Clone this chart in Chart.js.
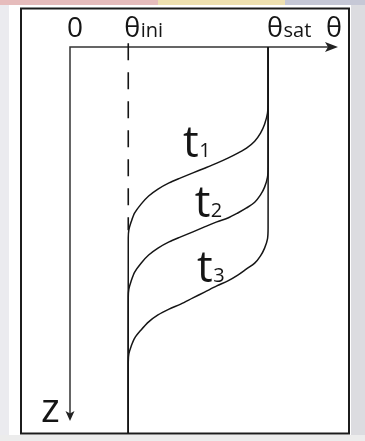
<!DOCTYPE html>
<html>
<head>
<meta charset="utf-8">
<title>Wetting front profiles</title>
<script src="https://cdn.jsdelivr.net/npm/chart.js@4.4.1/dist/chart.umd.min.js"></script>
<style>
  html, body { margin: 0; padding: 0; background: #fff; }
  canvas { display: block; }
</style>
</head>
<body>
<canvas id="profile" width="365" height="441"></canvas>
<script>
// water content axis (theta) and depth axis (z, cm, downward)
const thetaIni = 0.10;
const thetaSat = 0.34;
const thetaMax = 0.46;
const zMax = 100;
const zArrow = 96.9;

// the three fronts share one profile shape, each sitting deeper than the last
const frontTheta = [0.34, 0.34, 0.339, 0.334, 0.327, 0.317, 0.303, 0.288, 0.271, 0.252, 0.231, 0.211, 0.190, 0.170, 0.151, 0.135, 0.122, 0.111, 0.105, 0.101, 0.10, 0.10];

const t1Depth = [0, 14.0, 17.1, 20.0, 22.3, 24.4, 26.2, 27.5, 28.8, 30.1, 31.4, 32.6, 33.9, 35.2, 36.8, 38.6, 40.7, 43.0, 45.3, 47.4, 49.5, 100];
const t2Depth = [0, 30.8, 33.7, 36.3, 38.3, 40.2, 41.7, 43.0, 44.3, 45.3, 46.6, 47.9, 49.2, 50.5, 52.1, 53.9, 56.0, 58.3, 60.6, 62.7, 64.8, 100];
const t3Depth = [0, 46.9, 49.7, 52.1, 54.1, 56.0, 57.5, 59.1, 60.6, 61.9, 63.5, 65.0, 66.6, 67.9, 69.4, 71.2, 73.3, 75.4, 77.5, 79.5, 81.6, 100];

// initial water content marker (dashed, above the t1 front)
const iniDepth = [-1, 47.5];

// curve labels: text, subscript, theta, depth of baseline
const curveLabels = [
    ['t', '1', 0.194, 28.5],
    ['t', '2', 0.214, 44.1],
    ['t', '3', 0.218, 61.0]
];

const FONT = "'Open Sans', 'DejaVu Sans', sans-serif";
const INK = '#151515';

function toPoints(xs, ys) {
    return xs.map((x, i) => ({ x: x, y: ys[i] }));
}

function curve(label, xs, ys) {
    return {
        label: label,
        data: toPoints(xs, ys),
        showLine: true,
        borderColor: INK,
        borderWidth: 1.5,
        pointRadius: 0,
        tension: 0.3,
        fill: false
    };
}

function arrowHead(ctx, x, y, dir) {
    // dir: 'right' or 'down'
    ctx.beginPath();
    if (dir === 'right') {
        ctx.moveTo(x, y);
        ctx.lineTo(x - 13, y - 5);
        ctx.lineTo(x - 10, y);
        ctx.lineTo(x - 13, y + 5);
    } else {
        ctx.moveTo(x, y);
        ctx.lineTo(x - 4.5, y - 10);
        ctx.lineTo(x, y - 7.5);
        ctx.lineTo(x + 4.5, y - 10);
    }
    ctx.closePath();
    ctx.fill();
}

function subText(ctx, main, sub, x, base, bigSize, smallSize) {
    ctx.font = bigSize + 'px ' + FONT;
    ctx.fillText(main, x, base);
    const w = ctx.measureText(main).width;
    ctx.font = smallSize + 'px ' + FONT;
    ctx.fillText(sub, x + w + 0.5, base);
}

const sketchPlugin = {
    id: 'sketch',
    beforeDraw(chart) {
        const ctx = chart.ctx;
        const W = chart.width, H = chart.height;
        ctx.save();
        ctx.fillStyle = '#fff';
        ctx.fillRect(0, 0, W, H);

        // surrounding margins
        ctx.fillStyle = '#ebebef';
        ctx.fillRect(0, 0, 9, H);
        ctx.fillStyle = '#dcdce0';
        ctx.fillRect(351, 0, W - 351, H);
        ctx.fillStyle = '#ececec';
        ctx.fillRect(0, 435, W, H - 435);

        // coloured strip along the top
        ctx.fillStyle = '#e6bcbc';
        ctx.fillRect(0, 0, 158, 5);
        ctx.fillStyle = '#eee0b0';
        ctx.fillRect(158, 0, 127, 5);
        ctx.fillStyle = '#c6c8d6';
        ctx.fillRect(285, 0, W - 285, 5);

        // frame
        ctx.strokeStyle = '#1c1c1c';
        ctx.lineWidth = 2;
        ctx.strokeRect(21, 8.5, 328, 425);
        ctx.restore();
    },
    beforeDatasetsDraw(chart) {
        const ctx = chart.ctx;
        const xs = chart.scales.x, ys = chart.scales.y;
        const x0 = xs.getPixelForValue(0);
        const y0 = ys.getPixelForValue(0);
        const xEnd = xs.getPixelForValue(thetaMax);
        const yEnd = ys.getPixelForValue(zArrow);

        ctx.save();
        ctx.strokeStyle = '#333';
        ctx.fillStyle = '#222';
        ctx.lineWidth = 1.5;
        ctx.beginPath();
        ctx.moveTo(xEnd - 8, y0);
        ctx.lineTo(x0, y0);
        ctx.lineTo(x0, yEnd - 6);
        ctx.stroke();
        arrowHead(ctx, xEnd, y0, 'right');
        arrowHead(ctx, x0, yEnd, 'down');
        ctx.restore();
    },
    afterDatasetsDraw(chart) {
        const ctx = chart.ctx;
        const xs = chart.scales.x, ys = chart.scales.y;
        const base = 37;

        ctx.save();
        ctx.fillStyle = INK;
        ctx.textBaseline = 'alphabetic';
        ctx.textAlign = 'left';

        ctx.font = '28px ' + FONT;
        ctx.fillText('0', xs.getPixelForValue(0) - 3, base);

        subText(ctx, 'θ', 'ini', xs.getPixelForValue(thetaIni) - 4, base, 27, 20);
        subText(ctx, 'θ', 'sat', xs.getPixelForValue(thetaSat) - 1, base, 27, 20);

        ctx.font = '27px ' + FONT;
        ctx.fillText('θ', 326, base);

        ctx.font = '40px ' + FONT;
        ctx.fillText('z', 41, 422);

        curveLabels.forEach(([main, sub, th, z]) => {
            subText(ctx, main, sub, xs.getPixelForValue(th), ys.getPixelForValue(z), 44, 20);
        });
        ctx.restore();
    }
};

new Chart(document.getElementById('profile'), {
    type: 'scatter',
    data: {
        datasets: [
            {
                label: 'θini',
                data: toPoints([thetaIni, thetaIni], iniDepth),
                showLine: true,
                borderColor: INK,
                borderWidth: 1.6,
                borderDash: [17, 12],
                pointRadius: 0,
                clip: false
            },
            curve('t1', frontTheta, t1Depth),
            curve('t2', frontTheta, t2Depth),
            curve('t3', frontTheta, t3Depth)
        ]
    },
    options: {
        responsive: false,
        devicePixelRatio: 1,
        animation: false,
        layout: { padding: { left: 70, top: 47, right: 365 - 338, bottom: 8 } },
        plugins: {
            legend: { display: false },
            tooltip: { enabled: false }
        },
        scales: {
            x: { type: 'linear', min: 0, max: thetaMax, display: false },
            y: { type: 'linear', min: 0, max: zMax, reverse: true, display: false }
        }
    },
    plugins: [sketchPlugin]
});
</script>
</body>
</html>
